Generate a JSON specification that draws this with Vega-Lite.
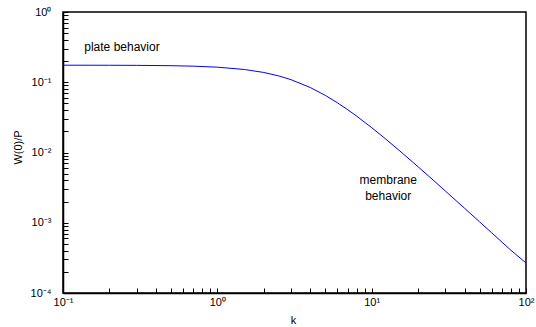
{
  "$schema": "https://vega.github.io/schema/vega-lite/v6.json",
  "width": 463,
  "height": 281,
  "autosize": "none",
  "padding": {"left": 63, "top": 12, "right": 10, "bottom": 34},
  "background": "white",
  "config": {
    "view": {"stroke": "#000000", "strokeWidth": 1.5},
    "axis": {
      "grid": false,
      "labelFont": "Liberation Sans",
      "labelFontSize": 11,
      "labelColor": "black",
      "titleFont": "Liberation Sans",
      "titleFontSize": 11,
      "titleFontWeight": "normal",
      "titleColor": "black",
      "labelOverlap": false,
      "labelFlush": false,
      "domainColor": "#000000",
      "domainWidth": 1.5,
      "tickColor": "#000000",
      "tickWidth": 1
    }
  },
  "datasets": {
    "curve": [
      {"k": 0.1, "w": 0.17488},
      {"k": 0.2, "w": 0.17453},
      {"k": 0.3, "w": 0.17394},
      {"k": 0.5, "w": 0.1721},
      {"k": 0.7, "w": 0.1694},
      {"k": 1, "w": 0.16394},
      {"k": 1.5, "w": 0.15194},
      {"k": 2, "w": 0.13781},
      {"k": 2.5, "w": 0.1231},
      {"k": 3, "w": 0.10889},
      {"k": 4, "w": 0.08416},
      {"k": 5, "w": 0.06514},
      {"k": 6, "w": 0.05104},
      {"k": 7, "w": 0.04064},
      {"k": 8, "w": 0.03291},
      {"k": 10, "w": 0.02259},
      {"k": 12, "w": 0.01633},
      {"k": 15, "w": 0.010816},
      {"k": 20, "w": 0.006253},
      {"k": 25, "w": 0.004054},
      {"k": 30, "w": 0.002835},
      {"k": 40, "w": 0.0016063},
      {"k": 50, "w": 0.0010314},
      {"k": 60, "w": 0.0007176},
      {"k": 70, "w": 0.0005278},
      {"k": 80, "w": 0.0004044},
      {"k": 100, "w": 0.000268}
    ],
    "notes": [
      {"k": 0.241, "w": 0.317, "label": "plate behavior"},
      {"k": 12.8, "w": 0.00404, "label": "membrane"},
      {"k": 12.8, "w": 0.00239, "label": "behavior"}
    ]
  },
  "encoding": {
    "x": {
      "field": "k", "type": "quantitative",
      "scale": {"type": "log", "domain": [0.1, 100], "nice": false},
      "axis": {
        "orient": "bottom",
        "title": "k",
        "titleX": 230, "titleY": 27, "titleBaseline": "middle",
        "tickCount": 20,
        "tickSize": -5,
        "labelPadding": 8,
        "labelExpr": "abs(log(datum.value)/LN10 - round(log(datum.value)/LN10)) < 0.000001 ? '10' + ['⁻⁴','⁻³','⁻²','⁻¹','⁰','¹','²'][round(log(datum.value)/LN10)+4] : ''"
      }
    },
    "y": {
      "field": "w", "type": "quantitative",
      "scale": {"type": "log", "domain": [0.0001, 1], "nice": false},
      "axis": {
        "orient": "left",
        "title": "W(0)/P",
        "titleX": -45, "titleY": 135, "titleAngle": -90, "titleAlign": "center", "titleBaseline": "middle",
        "tickCount": 20,
        "tickSize": -5,
        "labelPadding": 17,
        "labelExpr": "abs(log(datum.value)/LN10 - round(log(datum.value)/LN10)) < 0.000001 ? '10' + ['⁻⁴','⁻³','⁻²','⁻¹','⁰','¹','²'][round(log(datum.value)/LN10)+4] : ''"
      }
    }
  },
  "layer": [
    {
      "data": {"name": "curve"},
      "mark": {"type": "line", "color": "#0000ff", "strokeWidth": 1, "clip": true}
    },
    {
      "data": {"name": "notes"},
      "mark": {"type": "text", "font": "Liberation Sans", "fontSize": 12, "color": "black", "align": "center", "baseline": "middle"},
      "encoding": {
        "text": {"field": "label"}
      }
    }
  ]
}
